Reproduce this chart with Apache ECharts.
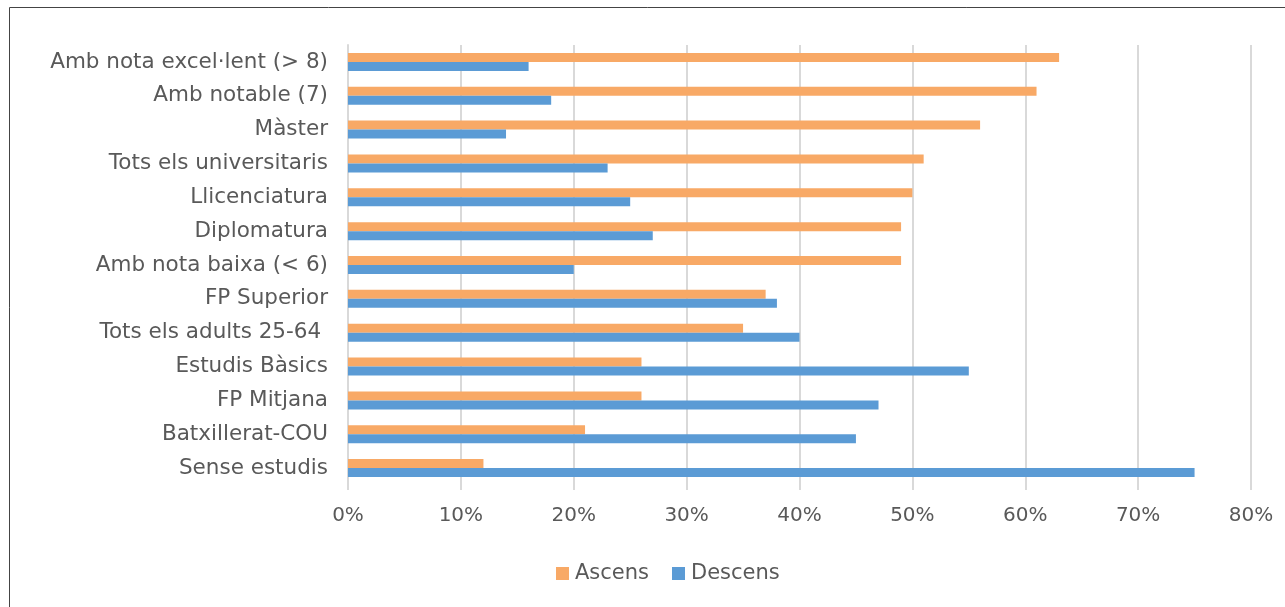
<!DOCTYPE html>
<html>
<head>
<meta charset="utf-8">
<script src="https://cdn.jsdelivr.net/npm/echarts@6/dist/echarts.min.js"></script>
<style>
html,body{margin:0;padding:0;background:#fff;}
#chart{width:1285px;height:607px;}
</style>
</head>
<body>
<div id="chart"></div>
<script>
const categories = [
  "Amb nota excel·lent (> 8)",
  "Amb notable (7)",
  "Màster",
  "Tots els universitaris",
  "Llicenciatura",
  "Diplomatura",
  "Amb nota baixa (< 6)",
  "FP Superior",
  "Tots els adults 25-64 ",
  "Estudis Bàsics",
  "FP Mitjana",
  "Batxillerat-COU",
  "Sense estudis"
];
const ascens  = [63, 61, 56, 51, 50, 49, 49, 37, 35, 26, 26, 21, 12];
const descens = [16, 18, 14, 23, 25, 27, 20, 38, 40, 55, 47, 45, 75];
const seriesNames = ["Ascens", "Descens"];

const chart = echarts.init(document.getElementById('chart'));
const fontFamily = '"DejaVu Sans", "Noto Sans", sans-serif';
chart.setOption({
  animation: false,
  textStyle: {fontFamily: fontFamily},
  graphic: [{
    type: 'rect',
    shape: {x: 9.5, y: 7.5, width: 1285, height: 620},
    style: {fill: 'none', stroke: '#444', lineWidth: 1}
  }],
  grid: {left: 348, right: 34, top: 45, bottom: 122, containLabel: false},
  legend: {
    data: seriesNames,
    top: 558,
    left: 551,
    itemWidth: 13,
    itemHeight: 13,
    itemGap: 23,
    icon: 'rect',
    textStyle: {color: '#595959', fontSize: 21, fontFamily: fontFamily, padding: [0, 0, 0, 1]}
  },
  xAxis: {
    type: 'value',
    min: 0, max: 0.8, interval: 0.1,
    axisLine: {show: false},
    axisTick: {show: true, length: 5, lineStyle: {color: '#d9d9d9', width: 2}},
    splitLine: {show: true, lineStyle: {color: '#d9d9d9', width: 2}},
    axisLabel: {
      color: '#595959', fontSize: 20, margin: 21,
      formatter: v => Math.round(v * 100) + '%'
    }
  },
  yAxis: {
    type: 'category',
    data: categories,
    inverse: true,
    axisLine: {show: true, lineStyle: {color: '#d9d9d9', width: 2}},
    axisTick: {show: false},
    axisLabel: {color: '#595959', fontSize: 21.5, margin: 20}
  },
  series: [
    {
      name: seriesNames[0], type: 'bar',
      data: ascens.map(v => v / 100),
      itemStyle: {color: '#f8a966'},
      barWidth: 9, barGap: '0%'
    },
    {
      name: seriesNames[1], type: 'bar',
      data: descens.map(v => v / 100),
      itemStyle: {color: '#5b9bd5'},
      barWidth: 9, barGap: '0%'
    }
  ]
});
</script>
</body>
</html>
